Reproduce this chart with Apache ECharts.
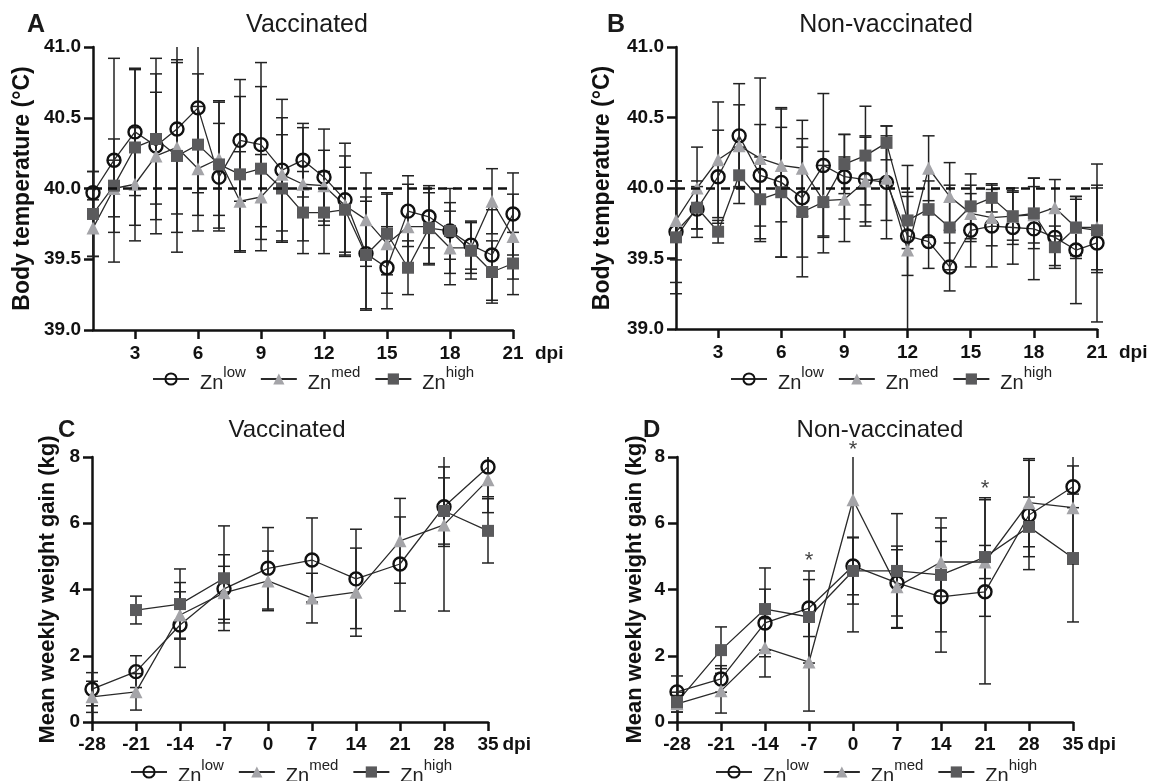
<!DOCTYPE html>
<html>
<head>
<meta charset="utf-8">
<script src="https://cdn.jsdelivr.net/npm/echarts@6/dist/echarts.min.js"></script>
<style>
html, body { margin: 0; padding: 0; background: #fff; }
#chart { width: 1154px; height: 781px; }
</style>
</head>
<body>
<div id="chart"></div>
<script>
// days post infection, body temperature panels
const tempDays = [1, 2, 3, 4, 5, 6, 7, 8, 9, 10, 11, 12, 13, 14, 15, 16, 17, 18, 19, 20, 21]
const tempTicks = [3, 6, 9, 12, 15, 18, 21]
// weeks, weight gain panels
const weekDays = [-28, -21, -14, -7, 0, 7, 14, 21, 28, 35]
const refTemp = 40.0

// A - vaccinated, temperature (mean / sd)
const aLow = [39.97, 40.20, 40.40, 40.30, 40.42, 40.57, 40.08, 40.34, 40.31, 40.13, 40.20, 40.08, 39.92, 39.54, 39.44, 39.84, 39.80, 39.70, 39.60, 39.53, 39.82]
const aLowSd = [0.15, 0.72, 0.45, 0.62, 0.60, 0.60, 0.38, 0.43, 0.58, 0.50, 0.26, 0.34, 0.40, 0.40, 0.29, 0.25, 0.22, 0.30, 0.17, 0.32, 0.29]
const aMed = [39.72, 40.00, 40.03, 40.23, 40.29, 40.14, 40.21, 39.91, 39.94, 40.10, 40.03, 40.02, 39.88, 39.78, 39.61, 39.73, 39.73, 39.58, 39.58, 39.91, 39.66]
const aMedSd = [0.20, 0.20, 0.40, 0.45, 0.60, 0.44, 0.40, 0.35, 0.30, 0.40, 0.40, 0.25, 0.35, 0.33, 0.35, 0.30, 0.27, 0.26, 0.18, 0.23, 0.30]
const aHigh = [39.82, 40.02, 40.29, 40.35, 40.23, 40.31, 40.17, 40.10, 40.14, 40.00, 39.83, 39.83, 39.85, 39.53, 39.68, 39.44, 39.72, 39.70, 39.56, 39.41, 39.47]
const aHighSd = [0.30, 0.33, 0.55, 0.46, 0.68, 0.50, 0.45, 0.55, 0.58, 0.38, 0.29, 0.29, 0.30, 0.38, 0.29, 0.19, 0.25, 0.20, 0.20, 0.22, 0.22]

// B - non-vaccinated, temperature
const bLow = [39.69, 39.85, 40.08, 40.37, 40.09, 40.04, 39.93, 40.16, 40.08, 40.06, 40.04, 39.66, 39.62, 39.44, 39.70, 39.73, 39.72, 39.71, 39.65, 39.56, 39.61]
const bLowSd = [0.36, 0.20, 0.33, 0.37, 0.36, 0.53, 0.42, 0.51, 0.30, 0.30, 0.40, 0.28, 0.19, 0.17, 0.26, 0.29, 0.26, 0.36, 0.20, 0.38, 0.56]
const bMed = [39.77, 40.00, 40.20, 40.30, 40.21, 40.16, 40.14, 39.91, 39.92, 40.05, 40.07, 39.56, 40.14, 39.94, 39.82, 39.79, 39.80, 39.81, 39.86, 39.72, 39.72]
const bMedSd = [0.28, 0.29, 0.41, 0.29, 0.57, 0.40, 0.34, 0.25, 0.30, 0.32, 0.30, 0.60, 0.23, 0.24, 0.20, 0.20, 0.20, 0.20, 0.20, 0.20, 0.30]
const bHigh = [39.65, 39.86, 39.69, 40.09, 39.92, 39.97, 39.83, 39.90, 40.17, 40.23, 40.32, 39.77, 39.85, 39.72, 39.87, 39.93, 39.80, 39.82, 39.58, 39.72, 39.70]
const bHighSd = [0.40, 0.15, 0.08, 0.20, 0.30, 0.46, 0.46, 0.36, 0.21, 0.35, 0.12, 0.20, 0.20, 0.30, 0.23, 0.10, 0.17, 0.25, 0.15, 0.22, 0.30]

// C - vaccinated, weight gain
const cLow = [0.99, 1.52, 2.93, 4.02, 4.64, 4.89, 4.32, 4.77, 6.50, 7.70]
const cLowSd = [0.50, 0.48, 1.28, 1.03, 1.23, 1.27, 1.50, 1.42, 1.20, 0.90]
const cMed = [0.76, 0.91, 3.23, 3.90, 4.26, 3.74, 3.92, 5.47, 5.95, 7.31]
const cMedSd = [0.47, 0.55, 0.70, 0.80, 0.90, 0.75, 1.33, 1.28, 2.60, 0.99]
const cHigh = [null, 3.38, 3.56, 4.34, null, null, null, null, 6.37, 5.77]
const cHighSd = [null, 0.42, 1.06, 1.58, null, null, null, null, 1.00, 0.97]

// D - non-vaccinated, weight gain
const dLow = [0.91, 1.30, 2.99, 3.44, 4.71, 4.20, 3.78, 3.93, 6.25, 7.10]
const dLowSd = [0.48, 0.40, 1.02, 0.86, 0.87, 1.00, 1.67, 2.78, 1.65, 0.63]
const dMed = [0.55, 0.94, 2.24, 1.81, 6.71, 4.08, 4.83, 4.83, 6.62, 6.47]
const dMedSd = [0.25, 0.67, 0.88, 1.48, 3.99, 1.23, 1.03, 0.50, 1.33, 1.70]
const dHigh = [0.60, 2.17, 3.41, 3.17, 4.56, 4.56, 4.44, 4.98, 5.89, 4.95]
const dHighSd = [0.30, 0.70, 1.24, 1.39, 1.00, 1.73, 1.72, 1.79, 0.90, 1.93]

// significance stars in D
const starX = [-7, 0, 21]
const starY = [4.85, 8.2, 7.05]

const groups = ['low', 'med', 'high']
const font = 'Liberation Sans, Arial, sans-serif'

const markers = {
    low: { symbol: 'circle', symbolSize: 13, itemStyle: { color: 'rgba(255,255,255,0)', borderColor: '#111', borderWidth: 2.4 } },
    med: { symbol: 'triangle', symbolSize: 13, itemStyle: { color: '#a4a4a8', borderWidth: 0 } },
    high: { symbol: 'rect', symbolSize: 12, itemStyle: { color: '#5a5a5c', borderWidth: 0 } }
}

function errorBars(yMin, yMax) {
    return function (params, api) {
        const x = api.value(0)
        const m = api.value(1)
        const sd = api.value(2)
        const hiV = m + sd
        const loV = m - sd
        const hi = api.coord([x, Math.min(hiV, yMax)])
        const lo = api.coord([x, Math.max(loV, yMin)])
        const st = { stroke: '#222', lineWidth: 1.5 }
        const cw = 6
        const children = [{ type: 'line', shape: { x1: hi[0], y1: hi[1], x2: lo[0], y2: lo[1] }, style: st }]
        if (hiV <= yMax) children.push({ type: 'line', shape: { x1: hi[0] - cw, y1: hi[1], x2: hi[0] + cw, y2: hi[1] }, style: st })
        if (loV >= yMin) children.push({ type: 'line', shape: { x1: lo[0] - cw, y1: lo[1], x2: lo[0] + cw, y2: lo[1] }, style: st })
        return { type: 'group', children }
    }
}

function panelSeries(gi, xs, sets, yMin, yMax, withRef) {
    const out = []
    sets.forEach((s, k) => {
        const errData = []
        xs.forEach((x, i) => {
            if (s.mean[i] != null) errData.push([x, s.mean[i], s.sd[i]])
        })
        const err = {
            name: 'err' + gi + k,
            type: 'custom',
            xAxisIndex: gi,
            yAxisIndex: gi,
            z: 2,
            silent: true,
            renderItem: errorBars(yMin, yMax),
            encode: { x: 0, y: 1 },
            data: errData
        }
        if (withRef && k === 0) {
            err.markLine = {
                silent: true,
                symbol: 'none',
                label: { show: false },
                lineStyle: { color: '#111', width: 2.5, type: [9, 6] },
                data: [{ yAxis: refTemp }]
            }
        }
        out.push(err)
    })
    sets.forEach((s, k) => {
        const g = groups[k]
        out.push({
            name: g,
            type: 'line',
            xAxisIndex: gi,
            yAxisIndex: gi,
            z: 4,
            symbol: markers[g].symbol,
            symbolSize: markers[g].symbolSize,
            itemStyle: markers[g].itemStyle,
            lineStyle: { color: '#2a2a2a', width: 1.3 },
            connectNulls: false,
            data: xs.map((x, i) => [x, s.mean[i]])
        })
    })
    return out
}

const grids = [
    { left: 93, top: 47, width: 420, height: 283 },
    { left: 676, top: 47, width: 421, height: 282 },
    { left: 92, top: 457, width: 396, height: 265 },
    { left: 677, top: 457, width: 396, height: 265 }
]

const axisBase = {
    axisLine: { onZero: false, lineStyle: { color: '#111', width: 2.5 } },
    axisTick: { length: 9, lineStyle: { color: '#111', width: 2.5 } },
    splitLine: { show: false }
}
const labelStyle = { color: '#111', fontSize: 19, fontWeight: 'bold', fontFamily: font }
const nameStyle = { color: '#111', fontSize: 23, fontWeight: 'bold', fontFamily: font }

function tempX(gi) {
    return Object.assign({}, axisBase, {
        type: 'value', gridIndex: gi, min: 1, max: 21,
        axisTick: Object.assign({}, axisBase.axisTick, { customValues: tempTicks }),
        axisLabel: Object.assign({}, labelStyle, { customValues: tempTicks, margin: 14 }),
        name: 'dpi', nameLocation: 'end', nameGap: 22,
        nameTextStyle: Object.assign({}, labelStyle, { verticalAlign: 'top', padding: [14, 0, 0, 0] })
    })
}
function weekX(gi) {
    return Object.assign({}, axisBase, {
        type: 'value', gridIndex: gi, min: -28, max: 35, interval: 7,
        axisLabel: Object.assign({}, labelStyle, { margin: 13 }),
        name: 'dpi', nameLocation: 'end', nameGap: 8,
        nameTextStyle: Object.assign({}, labelStyle, { verticalAlign: 'top', padding: [13, 0, 0, 0] })
    })
}
function tempY(gi, gap) {
    return Object.assign({}, axisBase, {
        type: 'value', gridIndex: gi, min: 39, max: 41, interval: 0.5,
        axisLabel: Object.assign({}, labelStyle, { margin: 12, formatter: v => v.toFixed(1) }),
        name: 'Body temperature (°C)', nameLocation: 'middle', nameGap: gap, nameTextStyle: nameStyle
    })
}
function weightY(gi, gap) {
    return Object.assign({}, axisBase, {
        type: 'value', gridIndex: gi, min: 0, max: 8, interval: 2,
        axisLabel: Object.assign({}, labelStyle, { margin: 12 }),
        name: 'Mean weekly weight gain (kg)', nameLocation: 'middle', nameGap: gap,
        nameTextStyle: Object.assign({}, nameStyle, { fontSize: 22 })
    })
}

function legendAt(left, top) {
    return {
        left: left, top: top, itemWidth: 36, itemHeight: 14, itemGap: 14,
        data: groups,
        selectedMode: false,
        formatter: n => '{base|Zn}{sup|' + n + '}',
        textStyle: {
            padding: [0, 0, 0, 6],
            rich: {
                base: { fontSize: 20, color: '#222', fontFamily: font, lineHeight: 28, verticalAlign: 'bottom' },
                sup: { fontSize: 15, color: '#222', fontFamily: font, lineHeight: 15, verticalAlign: 'top' }
            }
        }
    }
}

const titleText = (text, left, top, size, bold, align) => ({
    text, left, top, padding: 0, textAlign: align || 'left',
    textStyle: { fontSize: size, fontWeight: bold ? 'bold' : 'normal', color: '#1a1a1a', fontFamily: font }
})

const series = [].concat(
    panelSeries(0, tempDays, [{ mean: aLow, sd: aLowSd }, { mean: aMed, sd: aMedSd }, { mean: aHigh, sd: aHighSd }], 39, 41, true),
    panelSeries(1, tempDays, [{ mean: bLow, sd: bLowSd }, { mean: bMed, sd: bMedSd }, { mean: bHigh, sd: bHighSd }], 39, 41, true),
    panelSeries(2, weekDays, [{ mean: cLow, sd: cLowSd }, { mean: cMed, sd: cMedSd }, { mean: cHigh, sd: cHighSd }], 0, 8, false),
    panelSeries(3, weekDays, [{ mean: dLow, sd: dLowSd }, { mean: dMed, sd: dMedSd }, { mean: dHigh, sd: dHighSd }], 0, 8, false)
)
series.push({
    name: 'stars',
    type: 'scatter',
    xAxisIndex: 3,
    yAxisIndex: 3,
    clip: false,
    symbolSize: 1,
    itemStyle: { color: 'rgba(0,0,0,0)' },
    label: { show: true, position: 'inside', formatter: '*', fontSize: 22, color: '#111', fontFamily: font },
    data: starX.map((x, i) => [x, starY[i]])
})

const chart = echarts.init(document.getElementById('chart'))
chart.setOption({
    animation: false,
    backgroundColor: '#fff',
    title: [
        titleText('A', 27, 13, 25, true),
        titleText('Vaccinated', 307, 13, 25, false, 'center'),
        titleText('B', 607, 13, 25, true),
        titleText('Non-vaccinated', 886, 13, 25, false, 'center'),
        titleText('C', 58, 418, 24, true),
        titleText('Vaccinated', 287, 418, 24, false, 'center'),
        titleText('D', 643, 418, 24, true),
        titleText('Non-vaccinated', 880, 418, 24, false, 'center')
    ],
    legend: [legendAt(147, 360), legendAt(725, 360), legendAt(125, 753), legendAt(710, 753)],
    grid: grids,
    xAxis: [tempX(0), tempX(1), weekX(2), weekX(3)],
    yAxis: [tempY(0, 59), tempY(1, 62), weightY(2, 33), weightY(3, 31)],
    series: series
})
</script>
</body>
</html>
